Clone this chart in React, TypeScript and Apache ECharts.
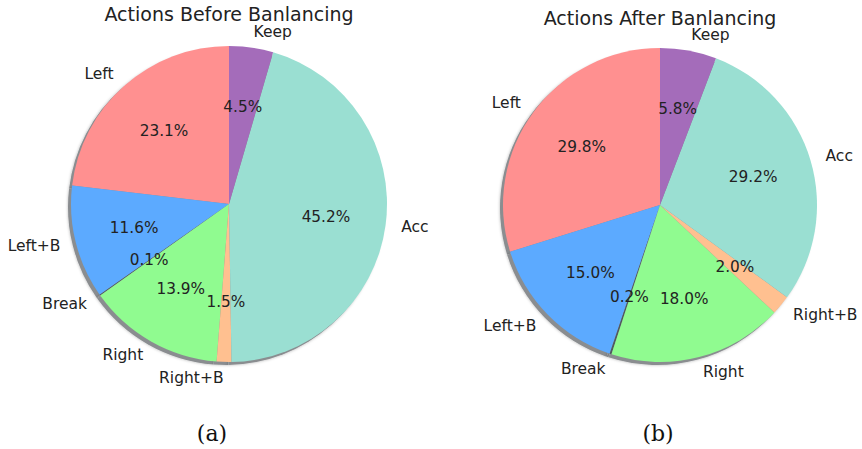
import React, { useEffect, useRef } from "react";
import * as echarts from "echarts";

const categories = ["Left", "Left+B", "Break", "Right", "Right+B", "Acc", "Keep"];
const beforeValues = [23.1, 11.6, 0.1, 13.9, 1.5, 45.2, 4.5];
const afterValues = [29.8, 15.0, 0.2, 18.0, 2.0, 29.2, 5.8];
const colors = ["#ff9090", "#5caaff", "#505860", "#90fb90", "#ffc090", "#9adfd2", "#a46cba"];
const titles = ["Actions Before Banlancing", "Actions After Banlancing"];
const captions = ["(a)", "(b)"];

const TEXT = "#222222";
const FONT = "DejaVu Sans";

function pieSet(values: number[], cx: number, cy: number, r: number) {
  const data = categories.map((name, i) => ({
    name,
    value: values[i],
    itemStyle: { color: colors[i] },
  }));
  const common = {
    type: "pie" as const,
    startAngle: 90,
    clockwise: false,
    avoidLabelOverlap: false,
    minAngle: 0,
    animation: false,
  };
  return [
    {
      ...common,
      center: [cx - 3, cy + 3],
      radius: r,
      silent: true,
      z: 1,
      data: data.map((d) => ({ ...d, itemStyle: { color: "#8a8d90", borderWidth: 0 } })),
      itemStyle: { shadowBlur: 3, shadowColor: "rgba(0,0,0,0.3)" },
      label: { show: false },
      labelLine: { show: false },
    },
    {
      ...common,
      center: [cx, cy],
      radius: r,
      silent: true,
      z: 2,
      data,
      itemStyle: { borderWidth: 0 },
      label: {
        show: true,
        position: "outside",
        formatter: "{b}",
        fontSize: 15.5,
        fontFamily: FONT,
        color: TEXT,
        distanceToLabelLine: 0,
      },
      labelLine: { show: false, length: r * 0.1, length2: 0 },
    },
    {
      ...common,
      center: [cx, cy],
      radius: r * 1.2,
      silent: true,
      z: 3,
      data: data.map((d) => ({ ...d, itemStyle: { color: "rgba(0,0,0,0)", borderWidth: 0 } })),
      label: {
        show: true,
        position: "inside",
        formatter: (p: any) => `${Number(p.value).toFixed(1)}%`,
        fontSize: 15.3,
        fontFamily: FONT,
        color: TEXT,
      },
      labelLine: { show: false },
    },
  ];
}

export default function App() {
  const ref = useRef<HTMLDivElement>(null);
  useEffect(() => {
    if (!ref.current) return;
    const chart = echarts.init(ref.current, undefined, { renderer: "svg" });
    chart.setOption({
      animation: false,
      backgroundColor: "#ffffff",
      series: [
        ...pieSet(beforeValues, 229, 204, 158),
        ...pieSet(afterValues, 660, 205, 157),
      ],
      graphic: [
        {
          type: "text",
          x: 229,
          y: 14,
          style: { text: titles[0], fontSize: 19, fontFamily: FONT, fill: TEXT, textAlign: "center", textVerticalAlign: "middle" },
        },
        {
          type: "text",
          x: 660,
          y: 17.5,
          style: { text: titles[1], fontSize: 19, fontFamily: FONT, fill: TEXT, textAlign: "center", textVerticalAlign: "middle" },
        },
        {
          type: "text",
          x: 212,
          y: 433,
          style: { text: captions[0], fontSize: 22, fontFamily: "DejaVu Serif", fill: "#111", textAlign: "center", textVerticalAlign: "middle" },
        },
        {
          type: "text",
          x: 658,
          y: 433,
          style: { text: captions[1], fontSize: 22, fontFamily: "DejaVu Serif", fill: "#111", textAlign: "center", textVerticalAlign: "middle" },
        },
      ],
    });
    return () => chart.dispose();
  }, []);
  return (
    <div
      ref={ref}
      style={{ position: "fixed", left: 0, top: 0, width: 862, height: 449 }}
    />
  );
}
